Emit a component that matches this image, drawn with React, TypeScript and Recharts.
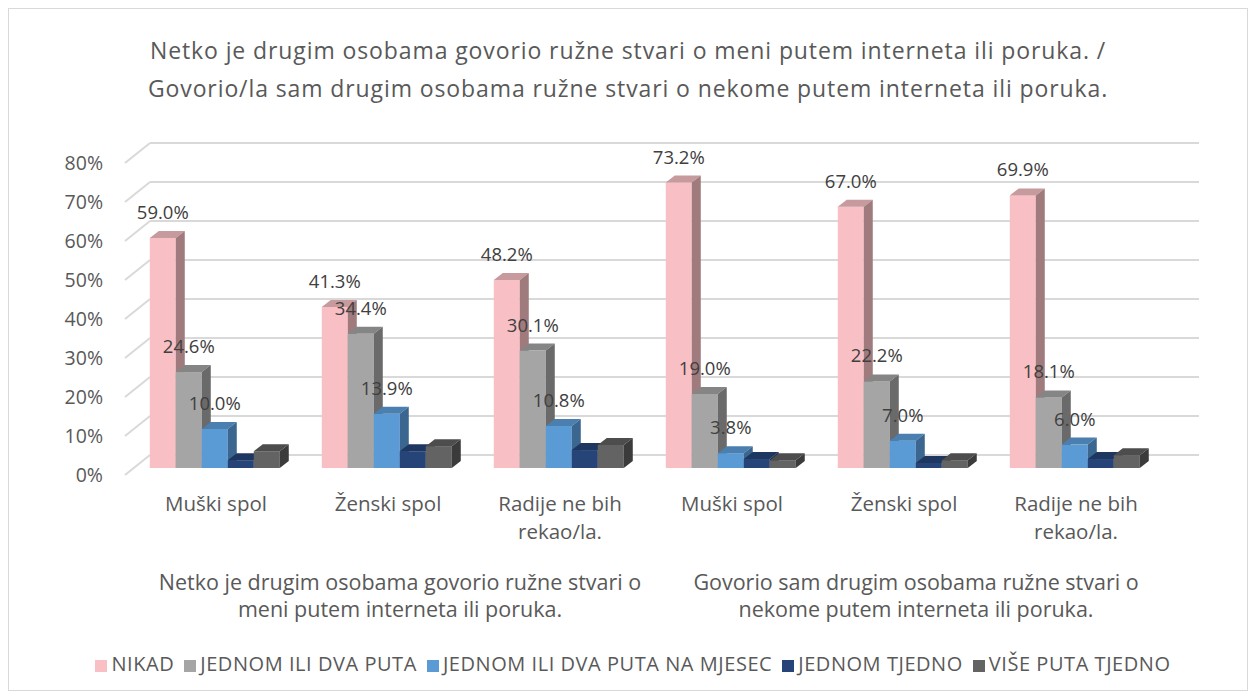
import React from 'react';
import { BarChart, Bar, XAxis, YAxis, CartesianGrid, Legend, LabelList, Text } from 'recharts';

const CATEGORIES = [
  'Muški spol',
  'Ženski spol',
  'Radije ne bih rekao/la.',
  'Muški spol',
  'Ženski spol',
  'Radije ne bih rekao/la.',
];
const GROUPS = [
  ['Netko je drugim osobama govorio ružne stvari o', 'meni putem interneta ili poruka.'],
  ['Govorio sam drugim osobama ružne stvari o', 'nekome putem interneta ili poruka.'],
];
const NIKAD = [59.0, 41.3, 48.2, 73.2, 67.0, 69.9];
const JEDNOM_DVA = [24.6, 34.4, 30.1, 19.0, 22.2, 18.1];
const NA_MJESEC = [10.0, 13.9, 10.8, 3.8, 7.0, 6.0];
const TJEDNO = [2.0, 4.3, 4.6, 2.3, 1.3, 2.3];
const VISE_PUTA = [4.3, 5.6, 5.9, 2.0, 2.0, 3.3];
const Y_TICKS = [0, 10, 20, 30, 40, 50, 60, 70, 80];

const TITLE = [
  'Netko je drugim osobama govorio ružne stvari o meni putem interneta ili poruka. /',
  'Govorio/la sam drugim osobama ružne stvari o nekome putem interneta ili poruka.',
];

// front / top / side shades for the fake 3D look
const SERIES = [
  { key: 'nikad', name: 'NIKAD', front: '#F8C0C4', top: '#C79A9D', side: '#A07B7E', label: true },
  { key: 'jednom', name: 'JEDNOM ILI DVA PUTA', front: '#A5A5A5', top: '#858585', side: '#6A6A6A', label: true },
  { key: 'mjesec', name: 'JEDNOM ILI DVA PUTA NA MJESEC', front: '#5B9BD5', top: '#4A7FB0', side: '#3A6690', label: true },
  { key: 'tjedno', name: 'JEDNOM TJEDNO', front: '#264478', top: '#1E3760', side: '#172B4B', label: false },
  { key: 'vise', name: 'VIŠE PUTA TJEDNO', front: '#636363', top: '#4D4D4D', side: '#3B3B3B', label: false },
];

const data = CATEGORIES.map((cat, i) => ({
  cat,
  nikad: NIKAD[i],
  jednom: JEDNOM_DVA[i],
  mjesec: NA_MJESEC[i],
  tjedno: TJEDNO[i],
  vise: VISE_PUTA[i],
}));

const FONT = '"Open Sans", sans-serif';
const TEXT = '#595959';
const DX = 9;
const DY = 7;

function Bar3D(props: any) {
  const { x, y, width: w, height: h, c } = props;
  if (h == null || w == null) return null;
  return (
    <g>
      <rect x={x} y={y} width={w} height={h} fill={c.front} />
      <polygon
        points={`${x},${y} ${x + DX},${y - DY} ${x + w + DX},${y - DY} ${x + w},${y}`}
        fill={c.top}
      />
      <polygon
        points={`${x + w},${y} ${x + w + DX},${y - DY} ${x + w + DX},${y + h - DY} ${x + w},${y + h}`}
        fill={c.side}
      />
    </g>
  );
}

function GridLine(p: any) {
  const { x1, x2, y1 } = p;
  return (
    <g key={p.key}>
      <line x1={x1 - 5} y1={y1 + 7} x2={x1 + 20} y2={y1 - 13} stroke="#D9D9D9" strokeWidth={2} />
      <line x1={x1 + 20} y1={y1 - 13} x2={x2 + 37} y2={y1 - 13} stroke="#D9D9D9" strokeWidth={2} />
    </g>
  );
}

function YTick(p: any) {
  return (
    <text x={p.x} y={p.y + 6} textAnchor="end" dominantBaseline="central" fill={TEXT} fontSize={19.5} fontFamily={FONT}>
      {`${p.payload.value}%`}
    </text>
  );
}

function XTick(p: any) {
  const idx = p.index;
  const group = idx % 3 === 1 ? GROUPS[Math.floor(idx / 3)] : null;
  return (
    <g>
      <Text
        x={p.x}
        y={p.y + 35}
        width={160}
        textAnchor="middle"
        verticalAnchor="middle"
        lineHeight={28}
        fill={TEXT}
        fontSize={20.5}
        fontFamily={FONT}
        style={{ fontFamily: FONT, fontSize: 20.5 }}
      >
        {p.payload.value}
      </Text>
      {group &&
        group.map((line, i) => (
          <text
            key={i}
            x={p.x + 12}
            y={p.y + 105 + i * 27}
            textAnchor="middle"
            dominantBaseline="central"
            fill={TEXT}
            fontSize={21.5}
            fontFamily={FONT}
          >
            {line}
          </text>
        ))}
    </g>
  );
}

function PctLabel(p: any) {
  const { x, y, width, value } = p;
  return (
    <text x={x + width / 2} y={y - 19} textAnchor="middle" fill="#404040" fontSize={18.5} fontFamily={FONT}>
      {`${Number(value).toFixed(1)}%`}
    </text>
  );
}

const legendOrder = (item: any) => SERIES.findIndex((s) => s.name === item.value);

export default function App() {
  return (
    <div
      style={{
        position: 'relative',
        width: 1240,
        height: 683,
        border: '1px solid #D9D9D9',
        boxSizing: 'border-box',
        background: '#fff',
        fontFamily: FONT,
      }}
    >
      <div
        style={{
          position: 'absolute',
          top: 22,
          left: 0,
          width: '100%',
          textAlign: 'center',
          color: TEXT,
          fontSize: 23,
          letterSpacing: 0.9,
          lineHeight: '38px',
        }}
      >
        {TITLE.map((t, i) => (
          <div key={i}>{t}</div>
        ))}
      </div>
      <BarChart
        width={1238}
        height={681}
        data={data}
        margin={{ top: 147, right: 85, left: 61, bottom: 14 }}
        barCategoryGap="11.5%"
        barGap={0}
      >
        <CartesianGrid vertical={false} horizontal={GridLine as any} />
        <XAxis
          dataKey="cat"
          axisLine={false}
          tickLine={false}
          interval={0}
          height={184}
          tick={<XTick />}
        />
        <YAxis
          domain={[0, 80]}
          ticks={Y_TICKS}
          interval={0}
          width={60}
          axisLine={false}
          tickLine={false}
          tickMargin={21}
          tick={<YTick />}
        />
        <Legend
          verticalAlign="bottom"
          align="center"
          iconType="square"
          iconSize={12}
          itemSorter={legendOrder as any}
          wrapperStyle={{
            left: 20,
            width: 1218,
            height: 24,
            lineHeight: '24px',
            fontSize: 20,
            letterSpacing: 0.55,
            fontFamily: FONT,
            whiteSpace: 'nowrap',
          }}
          formatter={(v: string) => <span style={{ color: TEXT }}>{v}</span>}
        />
        {SERIES.map((s) => (
          <Bar
            key={s.key}
            dataKey={s.key}
            name={s.name}
            fill={s.front}
            isAnimationActive={false}
            shape={(p: any) => <Bar3D {...p} c={s} />}
          >
            {s.label && <LabelList dataKey={s.key} content={<PctLabel />} />}
          </Bar>
        ))}
      </BarChart>
    </div>
  );
}
